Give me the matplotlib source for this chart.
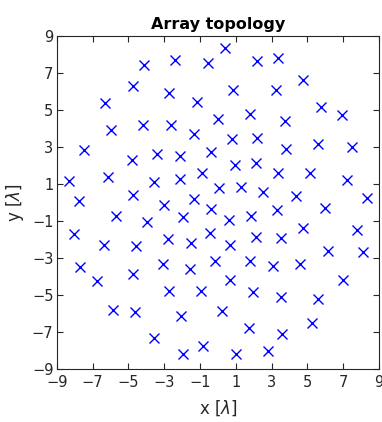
import matplotlib
matplotlib.use("Agg")
import matplotlib.pyplot as plt

# element positions in wavelengths
x = [0.40, -2.39, -4.12, -0.58, 2.17, 3.38, 4.78, -4.72, -2.74, 0.87,
     3.25, -6.30, -1.16, 1.80, 5.77, 6.94, -0.02, 3.77, -6.00, -4.20,
     -2.61, -1.31, 0.78, 2.21, -7.51, 3.81, 5.58, 7.50, -3.41, -2.11,
     -0.40, -4.81, 0.93, 2.14, -6.17, -8.33, -3.56, -2.11, -0.90, 3.38,
     5.12, 7.20, 0.05, 1.28, 2.51, 4.39, 8.32, -7.75, -4.72, -1.31,
     -2.99, -0.40, 3.29, 5.99, -5.69, -3.97, -1.98, 0.61, 1.86, -8.03,
     4.78, 7.80, -0.47, -6.36, -4.57, -2.80, -1.53, 0.68, 2.14, 3.53,
     6.14, 8.09, -7.73, -6.77, -4.72, -3.08, -1.55, -0.15, 1.80, 3.10,
     4.61, 0.68, 6.98, -2.74, -0.92, 1.95, 3.53, 5.58, -5.89, -4.64,
     -2.05, 0.22, 5.26, 1.71, 3.59, -3.58, -0.81, -1.96, 1.02, 2.81]
y = [8.32, 7.72, 7.40, 7.54, 7.65, 7.81, 6.60, 6.28, 5.92, 6.06,
     6.06, 5.38, 5.45, 4.80, 5.16, 4.73, 4.53, 4.39, 3.90, 4.17,
     4.17, 3.68, 3.40, 3.49, 2.82, 2.86, 3.13, 3.00, 2.64, 2.51,
     2.73, 2.28, 2.01, 2.14, 1.38, 1.18, 1.11, 1.25, 1.59, 1.61,
     1.61, 1.20, 0.80, 0.82, 0.55, 0.33, 0.26, 0.05, 0.41, 0.17,
     -0.15, -0.37, -0.42, -0.32, -0.75, -1.05, -0.80, -0.93, -0.73, -1.72,
     -1.38, -1.47, -1.63, -2.28, -2.35, -1.97, -2.21, -2.28, -1.86, -1.92,
     -2.62, -2.68, -3.52, -4.24, -3.88, -3.31, -3.59, -3.16, -3.18, -3.45,
     -3.31, -4.21, -4.21, -4.78, -4.77, -4.84, -5.11, -5.20, -5.83, -5.92,
     -6.15, -5.90, -6.51, -6.78, -7.14, -7.36, -7.77, -8.21, -8.21, -8.05]
ticks = list(range(-9, 10, 2))

fig = plt.figure(figsize=(3.82, 4.22), dpi=100)
ax = fig.add_axes([0.149, 0.126, 0.843, 0.789])
ax.plot(x, y, "x", color="blue", markersize=7, markeredgewidth=1)

ax.set_xlim(-9, 9)
ax.set_ylim(-9, 9)
ax.set_xticks(ticks)
ax.set_yticks(ticks)
ax.tick_params(direction="in", top=True, right=True, length=4,
               labelsize=10.5, colors="#262626", labelcolor="#262626")
ax.tick_params(axis="x", pad=4.5)
ax.tick_params(axis="y", pad=2.5)
for s in ax.spines.values():
    s.set_color("#262626")
    s.set_linewidth(0.8)

ax.set_title("Array topology", fontsize=11.5, fontweight="bold", pad=5)
ax.set_xlabel(r"x [$\lambda$]", fontsize=12, color="#262626", labelpad=6)
ax.set_ylabel(r"y [$\lambda$]", fontsize=12, color="#262626", labelpad=4)

fig.savefig("out.png", dpi=100)
